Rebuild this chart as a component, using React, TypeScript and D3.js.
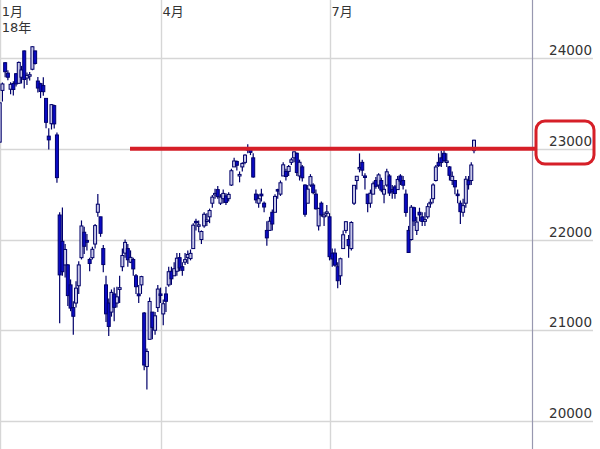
import React from "react";
import * as d3 from "d3";

const W = 600;
const H = 449;

// month gridlines: index of first trading day of the month
const monthMarks = [
  { index: 0, label: "1月", sub: "18年" },
  { index: 59, label: "4月" },
  { index: 121, label: "7月" },
];
const priceTicks = [20000, 21000, 22000, 23000, 24000];
const resistance = 23000;

// daily OHLC, 2018-01-04 .. 2018-09-14
const opens = [
  23073, 23643, 23948, 23833, 23656, 23719, 23827, 23721, 23788, 24078, 23779, 23802, 23876, 24078, 23746, 23717, 23696, 23555, 23139, 23276, 23475,
  23152, 22270, 21980, 21720, 21720, 21500, 21250, 21300, 21490, 21800, 22080, 21990, 21780, 21800, 21950, 22300, 22250, 21900, 21500, 21300,
  21200, 21400, 21300, 21450, 21700, 21850, 21900, 21750, 21780, 21600, 21400, 21500, 21190, 20600, 20900, 21200, 21000, 21250,
  21400, 21180, 21400, 21500, 21650, 21600, 21650, 21800, 21700, 21750, 21800, 21790, 21900, 22200, 22150, 22000, 22150, 22200, 22250, 22400,
  22500, 22550, 22400, 22450, 22480, 22450, 22600, 22800, 22860, 22700, 22800, 22850, 23000, 23000, 22900, 22500, 22400, 22500, 22400, 22100, 22100,
  22300, 22300, 22550, 22500, 22700, 22750, 22750, 22850, 22900, 22950, 22700, 22800, 22600, 22400, 22600, 22600, 22500, 22150, 22400, 22250, 22300,
  22250, 21850, 21850, 21700, 21600, 21900, 22100, 22000, 21900, 22400, 22650, 22780, 22850, 22700, 22500, 22400, 22500, 22650, 22600, 22650, 22500,
  22600, 22700, 22550, 22580, 22550, 22700, 22650, 22500, 22100, 22000, 22350, 22100, 22300, 22250, 22200, 22250, 22400, 22450, 22650, 22850, 22900, 22950, 22850,
  22800, 22650, 22650, 22500, 22400, 22300, 22400, 22650, 22650, 22980,
];
const highs = [
  23506, 23730, 23952, 23864, 23734, 23743, 23833, 23962, 23913, 24084, 23841, 23847, 24129, 24079, 23791, 23727, 23787, 23555, 23226, 23492, 23486,
  23178, 22300, 22353, 21950, 21731, 21560, 21320, 21540, 21760, 22210, 22140, 22060, 21800, 21920, 22170, 22502, 22250, 21940, 21600, 21350,
  21450, 21470, 21480, 21600, 21900, 22000, 21950, 21880, 21800, 21620, 21500, 21600, 21200, 20800, 21360, 21200, 21200, 21500,
  21470, 21340, 21480, 21700, 21700, 21750, 21850, 21850, 21750, 21850, 21880, 21890, 22180, 22230, 22210, 22100, 22300, 22290, 22340, 22490,
  22560, 22590, 22500, 22550, 22510, 22520, 22780, 22900, 22870, 22750, 22850, 22940, 23050, 23010, 22950, 22550, 22500, 22560, 22420, 22200, 22250,
  22330, 22500, 22560, 22650, 22850, 22780, 22820, 22900, 22970, 22960, 22880, 22820, 22610, 22600, 22720, 22620, 22550, 22350, 22420, 22300, 22380,
  22290, 21900, 21900, 21750, 21800, 22100, 22200, 22050, 22200, 22600, 22700, 22949, 22880, 22730, 22500, 22550, 22640, 22690, 22730, 22680, 22600,
  22780, 22720, 22600, 22600, 22700, 22720, 22700, 22550, 22150, 22380, 22360, 22250, 22350, 22300, 22300, 22400, 22450, 22620, 22820, 22950, 22980, 23000, 22950,
  22810, 22750, 22650, 22550, 22430, 22450, 22700, 22700, 22850, 23100,
];
const lows = [
  23065, 23520, 23789, 23755, 23601, 23588, 23685, 23720, 23719, 23663, 23703, 23751, 23865, 23927, 23620, 23558, 23585, 23227, 22992, 23212, 23223,
  22624, 21078, 21600, 21580, 21268, 21210, 20950, 21250, 21400, 21780, 21840, 21880, 21650, 21780, 21900, 22250, 22030, 21640, 21090, 20937,
  21150, 21100, 21250, 21300, 21650, 21800, 21700, 21740, 21600, 21400, 21300, 21400, 20559, 20347, 20900, 20900, 20950, 21200,
  21300, 21056, 21200, 21480, 21500, 21600, 21600, 21650, 21600, 21720, 21730, 21770, 21900, 22100, 22080, 21950, 22130, 22150, 22180, 22350,
  22450, 22450, 22380, 22400, 22380, 22420, 22590, 22800, 22760, 22630, 22750, 22830, 22950, 22930, 22680, 22400, 22350, 22420, 22300, 21930, 22100,
  22100, 22300, 22450, 22480, 22700, 22650, 22700, 22820, 22850, 22700, 22650, 22640, 22250, 22400, 22580, 22500, 22330, 22100, 22250, 22150, 22250,
  21770, 21700, 21700, 21462, 21500, 21900, 22070, 21800, 21880, 22380, 22550, 22740, 22700, 22550, 22300, 22350, 22500, 22560, 22560, 22520, 22400,
  22580, 22480, 22450, 22450, 22550, 22600, 22550, 22250, 21851, 21990, 22150, 22050, 22200, 22150, 22150, 22230, 22350, 22400, 22640, 22800, 22800, 22850, 22800,
  22650, 22600, 22500, 22400, 22172, 22250, 22350, 22550, 22600, 22950,
];
const closes = [
  23506, 23714, 23849, 23788, 23710, 23653, 23714, 23951, 23868, 23763, 23808, 23816, 24124, 23940, 23669, 23631, 23629, 23291, 23098, 23486, 23274,
  22682, 21610, 21645, 21890, 21382, 21244, 21154, 21464, 21720, 22149, 21925, 21970, 21736, 21892, 22153, 22389, 22068, 21724, 21181, 21042,
  21417, 21252, 21368, 21469, 21824, 21968, 21777, 21803, 21676, 21480, 21380, 21591, 20617, 20766, 21317, 21031, 21159, 21454,
  21388, 21292, 21319, 21645, 21567, 21678, 21794, 21687, 21660, 21778, 21835, 21847, 22158, 22191, 22162, 22088, 22278, 22215, 22319, 22467,
  22508, 22472, 22467, 22508, 22408, 22497, 22758, 22865, 22818, 22717, 22838, 22930, 23002, 22960, 22689, 22437, 22450, 22481, 22358, 22018, 22201,
  22171, 22475, 22539, 22625, 22823, 22694, 22804, 22878, 22966, 22738, 22851, 22680, 22278, 22555, 22693, 22516, 22338, 22342, 22271, 22270, 22304,
  21811, 21785, 21717, 21546, 21788, 22052, 22196, 21932, 22187, 22597, 22697, 22794, 22764, 22697, 22396, 22510, 22614, 22586, 22712, 22544, 22553,
  22746, 22512, 22525, 22507, 22662, 22644, 22598, 22298, 21857, 22356, 22204, 22192, 22270, 22199, 22219, 22362, 22410, 22601, 22799, 22813, 22848, 22869, 22865,
  22707, 22696, 22580, 22487, 22307, 22373, 22664, 22604, 22821, 23094,
];

const FONT = "'DejaVu Sans', 'Noto Sans CJK JP', sans-serif";
const GRID = "#d6d6d6";
const RED = "#d61f28";
const DOWN_FILL = "#0a0ac4";
const UP_FILL = "#c8c8e8";
const EDGE = "#00006a";

const App = () => {
  const n = closes.length;
  const x = d3.scaleLinear().domain([0, n - 1]).range([-0.3, 474]);
  const y = d3.scaleLinear().domain([20000, 24000]).range([421, 58]);
  const axisX = 532.5;
  const bodyW = 3;

  const candles = d3.range(n).map((i) => ({
    i,
    o: opens[i],
    h: highs[i],
    l: lows[i],
    c: closes[i],
  }));

  return (
    <div style={{ position: "fixed", left: 0, top: 0, width: W, height: H, background: "#fff" }}>
      <svg width={W} height={H} style={{ display: "block" }}>
        <rect width={W} height={H} fill="#fff" />
        {priceTicks.map((t) => (
          <line key={t} x1={0} x2={593} y1={Math.round(y(t)) + 0.5} y2={Math.round(y(t)) + 0.5} stroke={GRID} strokeWidth={1.4} />
        ))}
        {monthMarks.map((m) => (
          <line key={m.label} x1={Math.round(x(m.index)) + 0.5} x2={Math.round(x(m.index)) + 0.5} y1={0} y2={H} stroke={GRID} strokeWidth={1.4} />
        ))}
        <line x1={axisX} x2={axisX} y1={0} y2={H} stroke="#9898b0" strokeWidth={1.2} />

        {candles.map((d) => {
          const cx = x(d.i);
          const up = d.c >= d.o;
          const top = y(Math.max(d.o, d.c));
          const bot = y(Math.min(d.o, d.c));
          const bh = Math.max(bot - top, 1.5);
          return (
            <g key={d.i}>
              <line x1={cx} x2={cx} y1={y(d.h)} y2={y(d.l)} stroke={EDGE} strokeWidth={1.2} />
              <rect
                x={cx - bodyW / 2}
                y={top}
                width={bodyW}
                height={bh}
                fill={up ? UP_FILL : DOWN_FILL}
                stroke={EDGE}
                strokeWidth={1}
              />
            </g>
          );
        })}

        <line x1={130} x2={536} y1={y(resistance)} y2={y(resistance)} stroke={RED} strokeWidth={4} />
        <rect x={536} y={121} width={58} height={43} rx={9} fill="none" stroke={RED} strokeWidth={3} />

        {priceTicks.map((t) => (
          <text key={t} x={592} y={Math.round(y(t)) - 3} textAnchor="end" fontFamily={FONT} fontSize={13.5} fill="#333">
            {t}
          </text>
        ))}
        {monthMarks.map((m) => (
          <g key={m.label} fontFamily={FONT} fontSize={13} fill="#333">
            <text x={x(m.index) + 2} y={16}>{m.label}</text>
            {m.sub && <text x={x(m.index) + 2} y={32}>{m.sub}</text>}
          </g>
        ))}
      </svg>
    </div>
  );
};

export default App;
